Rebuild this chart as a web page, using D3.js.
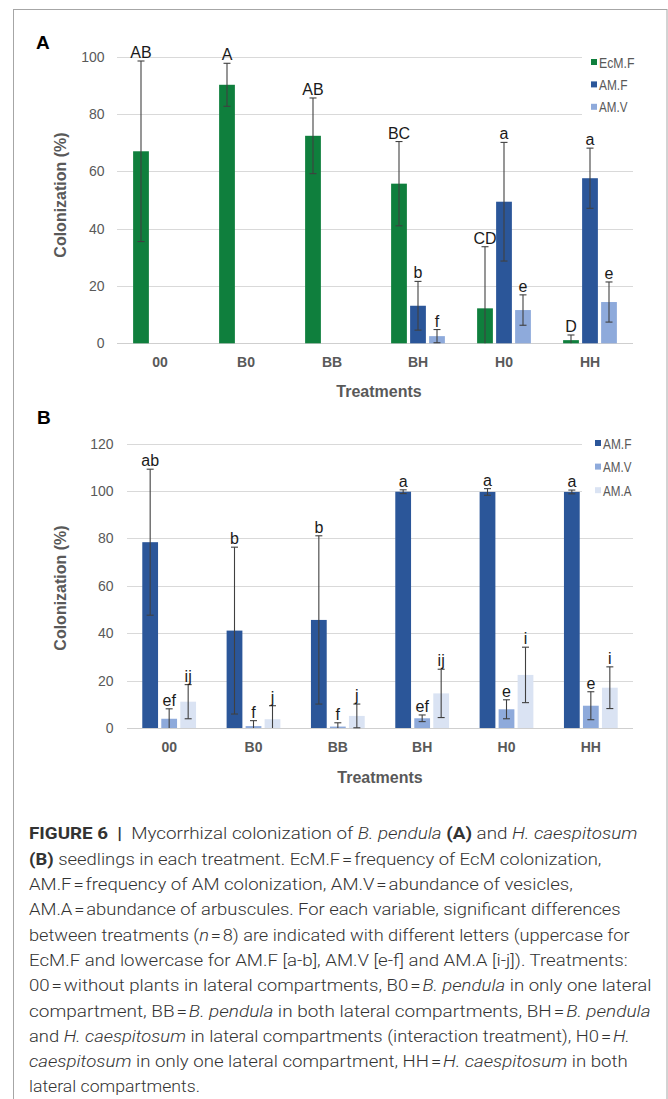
<!DOCTYPE html>
<html><head><meta charset="utf-8">
<script src="https://cdn.jsdelivr.net/npm/d3@7"></script>
<style>
body{margin:0;background:#fff}
svg{display:block}
text{font-family:"Liberation Sans",Arial,sans-serif}
</style>
</head><body>
<svg id="c" width="668" height="1099"></svg>
<script>
// ---------- DATA ----------
const categories = ["00","B0","BB","BH","H0","HH"];

// Panel A (B. pendula)
const ecmF_A        = [67.0, 90.2, 72.4, 55.7, 12.2, 1.1];
const ecmF_A_sd     = [31.5, 7.5, 13.2, 14.7, 21.5, 1.8];
const ecmF_A_letter = ["AB","A","AB","BC","CD","D"];
const amF_A         = [null, null, null, 13.1, 49.4, 57.6];
const amF_A_sd      = [null, null, null, 8.5, 20.7, 10.5];
const amF_A_letter  = [null, null, null, "b","a","a"];
const amV_A         = [null, null, null, 2.5, 11.6, 14.4];
const amV_A_sd      = [null, null, null, 2.3, 5.3, 7.0];
const amV_A_letter  = [null, null, null, "f","e","e"];
const ticksA = [0,20,40,60,80,100];

// Panel B (H. caespitosum)
const amF_B         = [78.4, 41.1, 45.6, 99.7, 99.6, 99.6];
const amF_B_sd      = [30.8, 35.2, 35.5, 0.8, 1.4, 0.8];
const amF_B_letter  = ["ab","b","b","a","a","a"];
const amV_B         = [3.9, 0.8, 0.6, 4.1, 7.9, 9.4];
const amV_B_sd      = [4.2, 2.3, 1.6, 1.4, 4.0, 5.9];
const amV_B_letter  = ["ef","f","f","ef","e","e"];
const amA_B         = [11.1, 3.7, 5.1, 14.6, 22.4, 17.0];
const amA_B_sd      = [7.2, 5.7, 5.0, 10.2, 11.7, 8.8];
const amA_B_letter  = ["ij","j","j","ij","i","i"];
const ticksB = [0,20,40,60,80,100,120];

const colors = {"EcM.F":"#0f7f3d","AM.F":"#2b5699","AM.V":"#8eaadb","AM.A":"#dae3f3"};

// ---------- DRAW ----------
const svg = d3.select("#c");
const TXT = "#595959";

// frame
svg.append("rect").attr("x",13.5).attr("y",9.5).attr("width",653.5).attr("height",1200)
  .attr("fill","none").attr("stroke","#a6a6a6").attr("stroke-width",1);

function panel(o){
  const g = svg.append("g");
  const x = d3.scaleBand().domain(categories).range(o.xRange);
  const names = o.series.map(s=>s.name);
  const c = x.bandwidth()/2;
  const xi = d3.scaleBand().domain(names).range([c-28.5, c+28.5]).paddingInner(0.17).paddingOuter(0.085);
  const y = d3.scaleLinear().domain([0,o.max]).range(o.yRange);

  // gridlines
  g.selectAll("line.grid").data(o.ticks).join("line").attr("class","grid")
    .attr("x1",o.xRange[0])
    .attr("x2",d=> d>=o.shortFrom ? o.shortEnd : o.xRange[1])
    .attr("y1",d=>Math.round(y(d))+0.5).attr("y2",d=>Math.round(y(d))+0.5)
    .attr("stroke",d=>d===0?"#cfcfcf":"#d9d9d9").attr("stroke-width",1);

  // y axis labels
  const ya = g.append("g").attr("transform",`translate(${o.yLabelX},0)`)
    .call(d3.axisLeft(y).tickValues(o.ticks).tickSize(0).tickPadding(0));
  ya.select(".domain").remove();
  ya.selectAll("text").attr("fill",TXT).style("font-size","14px").style("font-family","'Liberation Sans',Arial,sans-serif");

  // x axis labels
  const xa = g.append("g").attr("transform",`translate(0,${o.xLabelY})`)
    .call(d3.axisBottom(x).tickSize(0).tickPadding(0));
  xa.select(".domain").remove();
  xa.selectAll("text").attr("fill",TXT).attr("dy",0).style("font-size","14px").style("font-weight","bold")
    .style("font-family","'Liberation Sans',Arial,sans-serif");

  // bars + error bars + letters
  o.series.forEach(s=>{
    const data = categories.map((k,i)=>({k, v:s.values[i], sd:s.sd[i], l:s.letters[i]})).filter(d=>d.v!=null);
    const sg = g.append("g");
    sg.selectAll("rect").data(data).join("rect")
      .attr("x",d=>x(d.k)+xi(s.name)).attr("width",xi.bandwidth())
      .attr("y",d=>y(d.v)).attr("height",d=>y(0)-y(d.v))
      .attr("fill",colors[s.name]);
    const cx = d=>x(d.k)+xi(s.name)+xi.bandwidth()/2;
    const top = d=>y(d.v+d.sd);
    const bot = d=>y(Math.max(0,d.v-d.sd));
    const eg = sg.append("g").attr("stroke","#404040").attr("stroke-width",1.1);
    eg.selectAll("line.v").data(data).join("line").attr("class","v")
      .attr("x1",cx).attr("x2",cx).attr("y1",top).attr("y2",bot);
    eg.selectAll("line.t").data(data).join("line").attr("class","t")
      .attr("x1",d=>cx(d)-3.5).attr("x2",d=>cx(d)+3.5).attr("y1",top).attr("y2",top);
    eg.selectAll("line.b").data(data.filter(d=>d.v-d.sd>0)).join("line").attr("class","b")
      .attr("x1",d=>cx(d)-3.5).attr("x2",d=>cx(d)+3.5).attr("y1",bot).attr("y2",bot);
    sg.selectAll("text").data(data.filter(d=>d.l)).join("text")
      .attr("x",cx).attr("y",d=>top(d)-3).attr("text-anchor","middle")
      .attr("fill","#1a1a1a").style("font-size","16px").text(d=>d.l);
  });

  // legend
  const lg = g.append("g");
  o.series.forEach((s,i)=>{
    const yy = o.legend.y + i*o.legend.dy;
    lg.append("rect").attr("x",o.legend.x).attr("y",yy-3).attr("width",6).attr("height",6).attr("fill",colors[s.name]);
    lg.append("text").attr("x",o.legend.x+8).attr("y",yy+5.5).attr("fill",TXT)
      .style("font-size","14.5px").attr("textLength", s.name.length*7.1).attr("lengthAdjust","spacingAndGlyphs").text(s.name);
  });

  // axis titles
  g.append("text").attr("x",(o.xRange[0]+o.xRange[1])/2 + o.titleDx).attr("y",o.titleY).attr("text-anchor","middle")
    .attr("fill",TXT).style("font-size","16px").style("font-weight","bold").text("Treatments");
  g.append("text").attr("transform",`translate(${o.yTitleX},${o.yTitleY}) rotate(-90)`).attr("text-anchor","middle")
    .attr("fill",TXT).style("font-size","16px").style("font-weight","bold").text("Colonization (%)");
  g.append("text").attr("x",o.panel.x).attr("y",o.panel.y).attr("fill","#000")
    .style("font-size","19px").style("font-weight","bold").text(o.panel.t);
}

panel({
  xRange:[117,633], yRange:[343.3,56.7], max:100, ticks:ticksA, shortFrom:80, shortEnd:582,
  yLabelX:104.5, xLabelY:367,
  series:[
    {name:"EcM.F", values:ecmF_A, sd:ecmF_A_sd, letters:ecmF_A_letter},
    {name:"AM.F", values:amF_A, sd:amF_A_sd, letters:amF_A_letter},
    {name:"AM.V", values:amV_A, sd:amV_A_sd, letters:amV_A_letter}],
  legend:{x:591, y:62, dy:22.4},
  titleDx:4, titleY:397, yTitleX:66, yTitleY:195,
  panel:{x:36, y:48.5, t:"A"}
});

panel({
  xRange:[127,633], yRange:[728,443.6], max:120, ticks:ticksB, shortFrom:100, shortEnd:582,
  yLabelX:113.5, xLabelY:751.5,
  series:[
    {name:"AM.F", values:amF_B, sd:amF_B_sd, letters:amF_B_letter},
    {name:"AM.V", values:amV_B, sd:amV_B_sd, letters:amV_B_letter},
    {name:"AM.A", values:amA_B, sd:amA_B_sd, letters:amA_B_letter}],
  legend:{x:595, y:443, dy:23.6},
  titleDx:0, titleY:782.5, yTitleX:66, yTitleY:588,
  panel:{x:37, y:423.5, t:"B"}
});

// ---------- CAPTION ----------
const H = "\u200A=\u200A";
const captionLines = [
  [["FIGURE 6","b"],["  ","n"],["|","b"],["  Mycorrhizal colonization of ","n"],["B. pendula","i"],[" ","n"],["(A)","b"],[" and ","n"],["H. caespitosum","i"]],
  [["(B)","b"],[" seedlings in each treatment. EcM.F"+H+"frequency of EcM colonization,","n"]],
  [["AM.F"+H+"frequency of AM colonization, AM.V"+H+"abundance of vesicles,","n"]],
  [["AM.A"+H+"abundance of arbuscules. For each variable, significant differences","n"]],
  [["between treatments (","n"],["n","i"],[H+"8) are indicated with different letters (uppercase for","n"]],
  [["EcM.F and lowercase for AM.F [a-b], AM.V [e-f] and AM.A [i-j]). Treatments:","n"]],
  [["00"+H+"without plants in lateral compartments, B0"+H,"n"],["B. pendula","i"],[" in only one lateral","n"]],
  [["compartment, BB"+H,"n"],["B. pendula","i"],[" in both lateral compartments, BH"+H,"n"],["B. pendula","i"]],
  [["and ","n"],["H. caespitosum","i"],[" in lateral compartments (interaction treatment), H0"+H,"n"],["H.","i"]],
  [["caespitosum","i"],[" in only one lateral compartment, HH"+H,"n"],["H. caespitosum","i"],[" in both","n"]],
  [["lateral compartments.","n"]]
];
const captionRight = [638,602,573,621,630,628,652,651,630,628,200];
const cap = svg.append("g");
captionLines.forEach((segs,i)=>{
  const t = cap.append("text").attr("x",0).attr("y",839.5+i*25.3)
    .attr("fill","#333").style("font-family","Roboto,'Liberation Sans',sans-serif")
    .style("font-size","17px").style("font-weight","300").attr("xml:space","preserve");
  segs.forEach(([s,st])=>{
    const ts = t.append("tspan").text(s);
    if(st==="b") ts.style("font-weight","bold");
    if(st==="i") ts.style("font-style","italic");
  });
  const w = t.node().getComputedTextLength();
  const k = (captionRight[i]-29)/w;
  t.attr("transform",`translate(29,0) scale(${k},1)`);
});
</script>
</body></html>
